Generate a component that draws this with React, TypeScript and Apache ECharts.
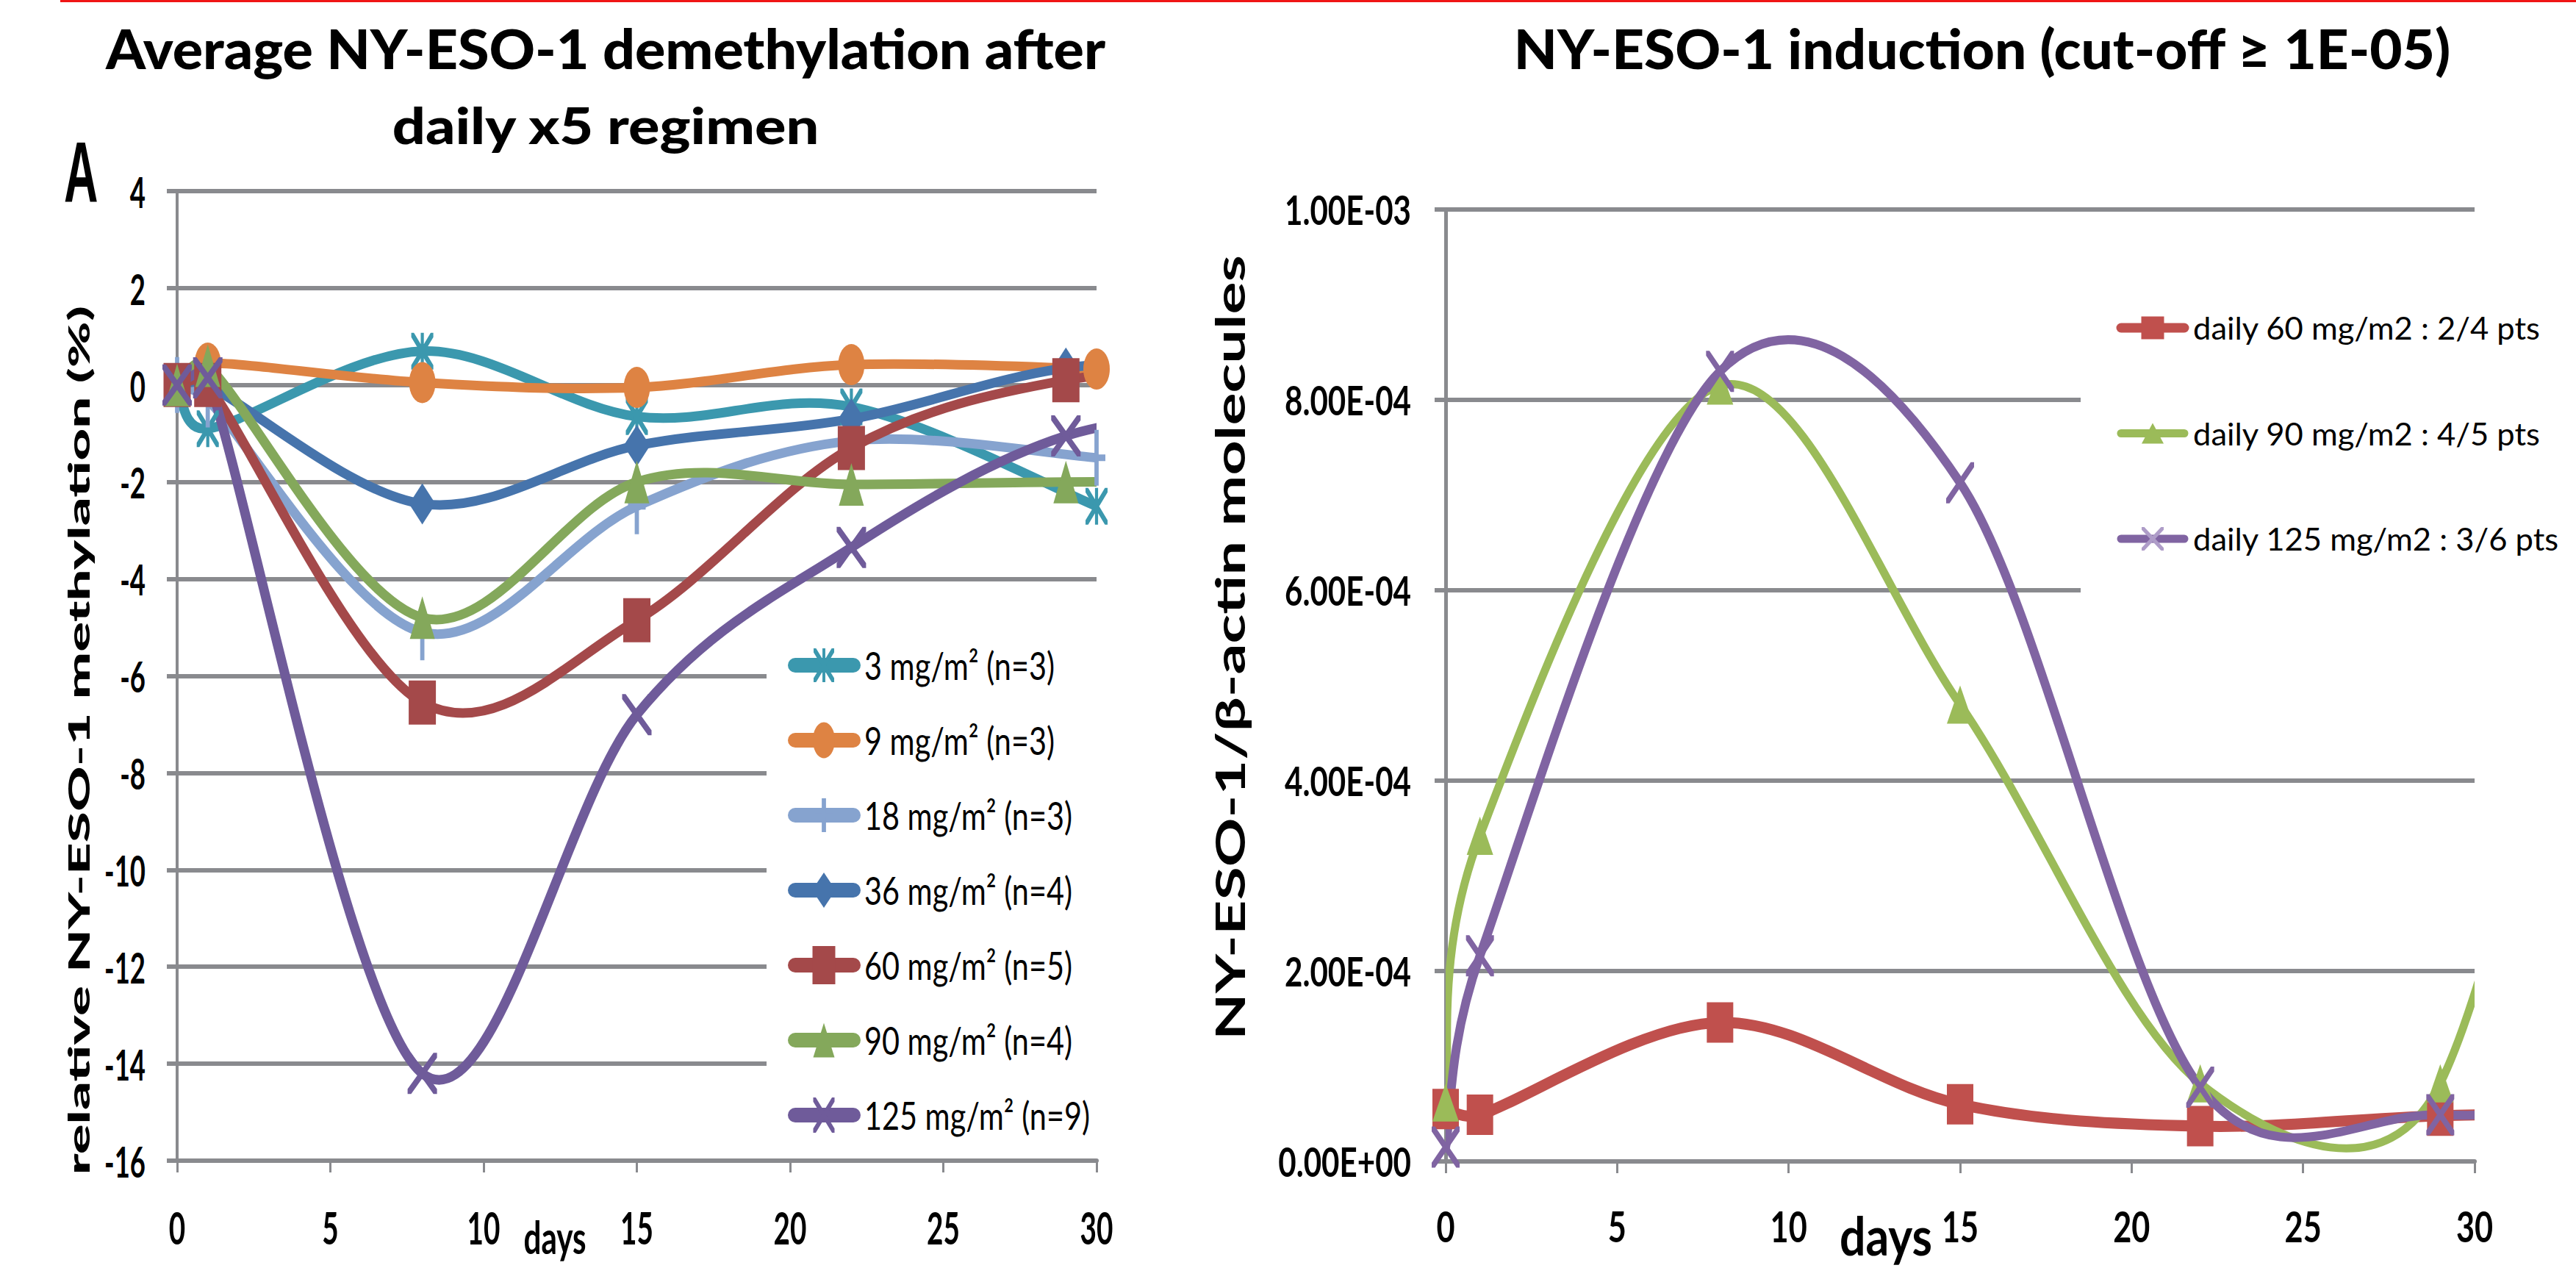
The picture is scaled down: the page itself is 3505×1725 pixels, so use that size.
import React, { useEffect, useRef } from "react";
import * as echarts from "echarts";

// ---------------- Panel A : average demethylation ----------------
const leftNames = [
  "3 mg/m² (n=3)",
  "9 mg/m² (n=3)",
  "18 mg/m² (n=3)",
  "36 mg/m² (n=4)",
  "60 mg/m² (n=5)",
  "90 mg/m² (n=4)",
  "125 mg/m² (n=9)",
];
const daysLowDose = [0, 1, 8, 15, 22, 30];
const daysHighDose = [0, 1, 8, 15, 22, 29, 36];
const meth3 = [0, -0.9, 0.7, -0.65, -0.45, -2.5];
const meth9 = [0, 0.45, 0.05, -0.05, 0.42, 0.33];
const meth18 = [0, -0.3, -5.1, -2.5, -1.15, -1.5];
const meth36 = [0, 0, -2.45, -1.25, -0.7, 0.35, 0.5];
const meth60 = [0, 0, -6.55, -4.85, -1.3, 0.1, 0.3];
const meth90 = [0, 0.4, -4.8, -2.0, -2.05, -2.0, -2.0];
const meth125 = [0, 0.15, -14.2, -6.8, -3.35, -1.05, -0.5];

// ---------------- Panel B : induction ----------------
const rightNames = ["daily 60 mg/m2 : 2/4 pts", "daily 90 mg/m2 : 4/5 pts", "daily 125 mg/m2 : 3/6 pts"];
const inductionDays = [0, 1, 8, 15, 22, 29, 36];
const ind60 = [5.5e-5, 4.9e-5, 1.46e-4, 6.0e-5, 3.7e-5, 4.8e-5, 5.2e-5];
const ind90 = [6.2e-5, 3.42e-4, 8.15e-4, 4.8e-4, 8.2e-5, 8.2e-5, 1.1e-3];
const ind125 = [1.5e-5, 2.16e-4, 8.3e-4, 7.13e-4, 7.8e-5, 4.9e-5, 6.0e-5];

// ---------------- ticks ----------------
const dayTicks = [0, 5, 10, 15, 20, 25, 30];
const dayTickLabels = ["0", "5", "10", "15", "20", "25", "30"];
const leftYTicks = [4, 2, 0, -2, -4, -6, -8, -10, -12, -14, -16];
const leftYTickLabels = ["4", "2", "0", "-2", "-4", "-6", "-8", "-10", "-12", "-14", "-16"];
const rightYTicks = [1e-3, 8e-4, 6e-4, 4e-4, 2e-4, 0];
const rightYTickLabels = ["1.00E-03", "8.00E-04", "6.00E-04", "4.00E-04", "2.00E-04", "0.00E+00"];

// ---------------- styles ----------------
const GRAY = "#898A8E";
const FONT = "Lato";

const X_PATH = "M0,0 L12,0 L100,88 L100,100 L88,100 L0,12 Z M88,0 L100,0 L100,12 L12,100 L0,100 L0,88 Z";
const AST_PATH = X_PATH + " M43,0 L57,0 L57,100 L43,100 Z";
const PLUS_PATH = "M38,0 L62,0 L62,100 L38,100 Z M0,44 L100,44 L100,56 L0,56 Z";
const ELL_PATH = "M50,0 A50,50 0 1,1 50,100 A50,50 0 1,1 50,0 Z";

echarts.graphic.registerShape("mkX", echarts.graphic.extendPath(X_PATH, {}));
echarts.graphic.registerShape("mkAst", echarts.graphic.extendPath(AST_PATH, {}));
echarts.graphic.registerShape("mkPlus", echarts.graphic.extendPath(PLUS_PATH, {}));

type Spec = {
  name: string;
  days: number[];
  values: number[];
  color: string;
  symbol: string;
  size: number[];
  lw: number;
  legendSize: number[];
  legendLw: number;
  legendColor?: string;
};

const leftSpecs: Spec[] = [
  { name: leftNames[0], days: daysLowDose, values: meth3, color: "#3B98AE", symbol: "ast", size: [30, 50], lw: 13, legendSize: [28, 46], legendLw: 20 },
  { name: leftNames[1], days: daysLowDose, values: meth9, color: "#DE8343", symbol: "ellipse", size: [36, 56], lw: 13, legendSize: [30, 49], legendLw: 20 },
  { name: leftNames[2], days: daysLowDose, values: meth18, color: "#86A3CF", symbol: "plus", size: [24, 76], lw: 13, legendSize: [24, 46], legendLw: 20 },
  { name: leftNames[3], days: daysHighDose, values: meth36, color: "#4674AC", symbol: "diamond", size: [36, 56], lw: 13, legendSize: [32, 48], legendLw: 20 },
  { name: leftNames[4], days: daysHighDose, values: meth60, color: "#A4494A", symbol: "rect", size: [37, 60], lw: 13, legendSize: [31, 52], legendLw: 20 },
  { name: leftNames[5], days: daysHighDose, values: meth90, color: "#84A85B", symbol: "triangle", size: [34, 58], lw: 13, legendSize: [29, 47], legendLw: 20 },
  { name: leftNames[6], days: daysHighDose, values: meth125, color: "#6F5B9A", symbol: "x", size: [40, 56], lw: 13, legendSize: [29, 48], legendLw: 20 },
];

const rightSpecs: Spec[] = [
  { name: rightNames[0], days: inductionDays, values: ind60, color: "#C0504D", symbol: "rect", size: [36, 55], lw: 15, legendSize: [31, 31], legendLw: 13 },
  { name: rightNames[1], days: inductionDays, values: ind90, color: "#9BBB59", symbol: "triangle", size: [36, 52], lw: 11, legendSize: [30, 28], legendLw: 11 },
  { name: rightNames[2], days: inductionDays, values: ind125, color: "#8064A2", symbol: "x", size: [38, 56], lw: 12, legendSize: [30, 32], legendLw: 11, legendColor: "#AE9CC8" },
];

function seriesSymbol(kind: string): string {
  if (kind === "ast") return "path://" + AST_PATH;
  if (kind === "x") return "path://" + X_PATH;
  if (kind === "plus") return "path://" + PLUS_PATH;
  if (kind === "ellipse") return "path://" + ELL_PATH;
  return kind;
}

// Excel-like smoothing: Catmull-Rom (1/6) with control arms limited to half the segment length
function smoothPath(p: number[][]): string {
  const dist = (a: number[], b: number[]) => Math.hypot(b[0] - a[0], b[1] - a[1]);
  let d = `M${p[0][0]},${p[0][1]}`;
  for (let i = 0; i < p.length - 1; i++) {
    const p0 = p[i - 1] || p[i];
    const p1 = p[i];
    const p2 = p[i + 1];
    const p3 = p[i + 2] || p[i + 1];
    const half = dist(p1, p2) / 2;
    let v1 = [(p2[0] - p0[0]) / 6, (p2[1] - p0[1]) / 6];
    let v2 = [(p3[0] - p1[0]) / 6, (p3[1] - p1[1]) / 6];
    const l1 = Math.hypot(v1[0], v1[1]);
    const l2 = Math.hypot(v2[0], v2[1]);
    if (l1 > half && l1 > 0) v1 = [(v1[0] * half) / l1, (v1[1] * half) / l1];
    if (l2 > half && l2 > 0) v2 = [(v2[0] * half) / l2, (v2[1] * half) / l2];
    d += ` C${p1[0] + v1[0]},${p1[1] + v1[1]} ${p2[0] - v2[0]},${p2[1] - v2[1]} ${p2[0]},${p2[1]}`;
  }
  return d;
}

function buildSeries(specs: Spec[], axisIndex: number, maxDay: number) {
  const out: any[] = [];
  specs.forEach((s) => {
    const pts = s.days.map((d, i) => [d, s.values[i]]);
    out.push({
      type: "custom",
      name: s.name + " curve",
      xAxisIndex: axisIndex,
      yAxisIndex: axisIndex,
      clip: true,
      silent: true,
      data: pts,
      renderItem: (params: any, api: any) => {
        if (params.dataIndex !== 0) return null;
        const px = pts.map((q) => api.coord(q));
        return {
          type: "path",
          shape: { pathData: smoothPath(px) },
          style: { fill: "none", stroke: s.color, lineWidth: s.lw, lineCap: "round", lineJoin: "round" },
        };
      },
    });
    out.push({
      type: "scatter",
      name: s.name,
      xAxisIndex: axisIndex,
      yAxisIndex: axisIndex,
      clip: false,
      silent: true,
      data: pts.filter((q) => q[0] <= maxDay),
      symbol: seriesSymbol(s.symbol),
      symbolSize: s.size,
      itemStyle: { color: s.color, opacity: 1 },
      emphasis: { disabled: true },
    });
  });
  return out;
}

let measureCtx: CanvasRenderingContext2D | null = null;
function inkWidth(text: string, weight: number, size: number, family: string): number {
  if (!measureCtx) measureCtx = document.createElement("canvas").getContext("2d");
  const c = measureCtx as CanvasRenderingContext2D;
  c.font = `${weight} ${size}px "${family}"`;
  const m = c.measureText(text);
  const w = (m.actualBoundingBoxLeft || 0) + (m.actualBoundingBoxRight || 0);
  return w > 0 ? w : m.width;
}
function fit(text: string, weight: number, size: number, family: string, target: number): number {
  return target / inkWidth(text, weight, size, family);
}

function T(text: string, x: number, y: number, o: any) {
  const align = o.align || "left";
  return {
    type: "text",
    x,
    y,
    rotation: o.rotation || 0,
    scaleX: o.sx ?? 1,
    scaleY: o.sy ?? 1,
    z: 60,
    silent: true,
    style: {
      text,
      fontSize: o.size,
      fontWeight: o.weight,
      fontFamily: o.family || FONT,
      fill: o.color || "#000",
      align,
      verticalAlign: "middle",
      textAlign: align,
      textVerticalAlign: "middle",
    },
  };
}

function legendSymbol(kind: string, cx: number, cy: number, w: number, h: number, color: string) {
  const z = 55;
  if (kind === "rect") return { type: "rect", z, silent: true, shape: { x: cx - w / 2, y: cy - h / 2, width: w, height: h }, style: { fill: color } };
  if (kind === "ellipse") return { type: "ellipse", z, silent: true, shape: { cx, cy, rx: w / 2, ry: h / 2 }, style: { fill: color } };
  if (kind === "triangle")
    return { type: "polygon", z, silent: true, shape: { points: [[cx, cy - h / 2], [cx + w / 2, cy + h / 2], [cx - w / 2, cy + h / 2]] }, style: { fill: color } };
  if (kind === "diamond")
    return { type: "polygon", z, silent: true, shape: { points: [[cx, cy - h / 2], [cx + w / 2, cy], [cx, cy + h / 2], [cx - w / 2, cy]] }, style: { fill: color } };
  const t = kind === "ast" ? "mkAst" : kind === "plus" ? "mkPlus" : "mkX";
  return { type: t, z, silent: true, x: cx - w / 2, y: cy - h / 2, scaleX: w / 100, scaleY: h / 100, style: { fill: color } };
}

function buildOption() {
  const xAxisBase = (gridIndex: number) => ({
    gridIndex,
    type: "value",
    min: 0,
    max: 30,
    interval: 5,
    axisLine: { show: true, onZero: false, lineStyle: { color: GRAY, width: 6 } },
    axisTick: { show: true, length: 16, lineStyle: { color: GRAY, width: 3 } },
    axisLabel: { show: false },
    splitLine: { show: false },
  });
  return {
    animation: false,
    backgroundColor: "#ffffff",
    grid: [
      { left: 241, top: 260, width: 1251, height: 1319 },
      { left: 1967, top: 285, width: 1400, height: 1295 },
    ],
    xAxis: [xAxisBase(0), xAxisBase(1)],
    yAxis: [
      {
        gridIndex: 0,
        type: "value",
        min: -16,
        max: 4,
        interval: 2,
        axisLine: { show: true, onZero: false, lineStyle: { color: GRAY, width: 4 } },
        axisTick: { show: true, length: 14, lineStyle: { color: GRAY, width: 6 } },
        axisLabel: { show: false },
        splitLine: { show: true, lineStyle: { color: GRAY, width: 6 } },
      },
      {
        gridIndex: 1,
        type: "value",
        min: 0,
        max: 0.001,
        interval: 0.0002,
        axisLine: { show: true, onZero: false, lineStyle: { color: GRAY, width: 5 } },
        axisTick: { show: true, length: 15, lineStyle: { color: GRAY, width: 6 } },
        axisLabel: { show: false },
        splitLine: { show: true, lineStyle: { color: GRAY, width: 6 } },
      },
    ],
    series: [...buildSeries(leftSpecs, 0, 30), ...buildSeries(rightSpecs, 1, 30)],
  };
}

function buildGraphics(chart: any) {
  const g: any[] = [];
  // thin red rule at the very top
  g.push({ type: "rect", z: 60, silent: true, shape: { x: 82, y: 0, width: 3423, height: 3 }, style: { fill: "#F01515" } });

  // panel letter
  g.push(T("A", 87, 235, { size: 117, weight: 700, family: "Liberation Sans", sx: fit("A", 700, 117, "Liberation Sans", 44) }));

  // titles
  const t1 = "Average NY-ESO-1 demethylation after";
  const t2 = "daily x5 regimen";
  const t3 = "NY-ESO-1 induction (cut-off ≥ 1E-05)";
  g.push(T(t1, 824, 65, { size: 75, weight: 900, align: "center", sx: fit(t1, 900, 75, FONT, 1362) }));
  g.push(T(t2, 824, 170, { size: 68, weight: 900, align: "center", sx: fit(t2, 900, 68, FONT, 576) }));
  g.push(T(t3, 2697, 65, { size: 75, weight: 900, align: "center", sx: fit(t3, 900, 75, FONT, 1269) }));

  // axis titles (rotated)
  const ytL = "relative NY-ESO-1 methylation (%)";
  g.push(T(ytL, 107, 1007, { size: 40, weight: 900, align: "center", rotation: Math.PI / 2, sx: fit(ytL, 900, 40, FONT, 1177) }));
  const ytR = "NY-ESO-1/β-actin molecules";
  g.push(T(ytR, 1672, 881, { size: 56, weight: 700, align: "center", rotation: Math.PI / 2, sx: fit(ytR, 700, 56, FONT, 1060) }));

  // left tick labels
  const sxLY = fit("-16", 700, 58, FONT, 53);
  leftYTicks.forEach((v, i) => {
    const p = chart.convertToPixel({ gridIndex: 0 }, [0, v]);
    g.push(T(leftYTickLabels[i], 198, p[1], { size: 58, weight: 700, align: "right", sx: sxLY }));
  });
  const sxLX = fit("30", 700, 62, FONT, 43);
  dayTicks.forEach((v, i) => {
    const p = chart.convertToPixel({ gridIndex: 0 }, [v, -16]);
    g.push(T(dayTickLabels[i], p[0], 1669, { size: 62, weight: 700, align: "center", sx: sxLX }));
  });
  g.push(T("days", 755, 1682, { size: 62, weight: 700, align: "center", sx: fit("days", 700, 62, FONT, 83) }));

  // right tick labels
  const sxRY = fit("1.00E-03", 700, 56, FONT, 168);
  rightYTicks.forEach((v, i) => {
    const p = chart.convertToPixel({ gridIndex: 1 }, [0, v]);
    g.push(T(rightYTickLabels[i], 1920, p[1], { size: 56, weight: 700, align: "right", sx: sxRY }));
  });
  const sxRX = fit("30", 700, 58, FONT, 49);
  dayTicks.forEach((v, i) => {
    const p = chart.convertToPixel({ gridIndex: 1 }, [v, 0]);
    g.push(T(dayTickLabels[i], p[0], 1668, { size: 58, weight: 700, align: "center", sx: sxRX }));
  });
  g.push(T("days", 2566, 1680, { size: 72, weight: 700, align: "center", sx: fit("days", 700, 72, FONT, 123) }));

  // left legend
  g.push({ type: "rect", z: 40, silent: true, shape: { x: 1043, y: 862, width: 470, height: 703 }, style: { fill: "#ffffff" } });
  const sxLL = fit(leftNames[0], 400, 52, FONT, 256);
  leftSpecs.forEach((s, i) => {
    const cy = 905 + 102 * i;
    g.push({ type: "line", z: 50, silent: true, shape: { x1: 1082, y1: cy, x2: 1161, y2: cy }, style: { stroke: s.color, lineWidth: s.legendLw, lineCap: "round" } });
    g.push(legendSymbol(s.symbol, 1121, cy, s.legendSize[0], s.legendSize[1], s.legendColor || s.color));
    g.push(T(s.name, 1176, cy, { size: 52, weight: 400, sx: sxLL }));
  });

  // right legend
  g.push({ type: "rect", z: 40, silent: true, shape: { x: 2831, y: 300, width: 674, height: 600 }, style: { fill: "#ffffff" } });
  const sxRL = fit(rightNames[0], 400, 42, FONT, 471);
  rightSpecs.forEach((s, i) => {
    const cy = 446 + 143.5 * i;
    g.push({ type: "line", z: 50, silent: true, shape: { x1: 2886, y1: cy, x2: 2972, y2: cy }, style: { stroke: s.color, lineWidth: s.legendLw, lineCap: "round" } });
    g.push(legendSymbol(s.symbol, 2929, cy, s.legendSize[0], s.legendSize[1], s.legendColor || s.color));
    g.push(T(s.name, 2984, cy, { size: 42, weight: 400, sx: sxRL }));
  });
  return g;
}

export default function App() {
  const ref = useRef<HTMLDivElement>(null);
  useEffect(() => {
    const el = ref.current as HTMLDivElement;
    const chart = echarts.init(el, null, { renderer: "svg", width: 3505, height: 1725 });
    chart.setOption(buildOption() as any);
    chart.setOption({ graphic: buildGraphics(chart) } as any);
    return () => chart.dispose();
  }, []);
  return (
    <div
      ref={ref}
      style={{ position: "absolute", left: 0, top: 0, width: 3505, height: 1725, background: "#ffffff" }}
    />
  );
}
